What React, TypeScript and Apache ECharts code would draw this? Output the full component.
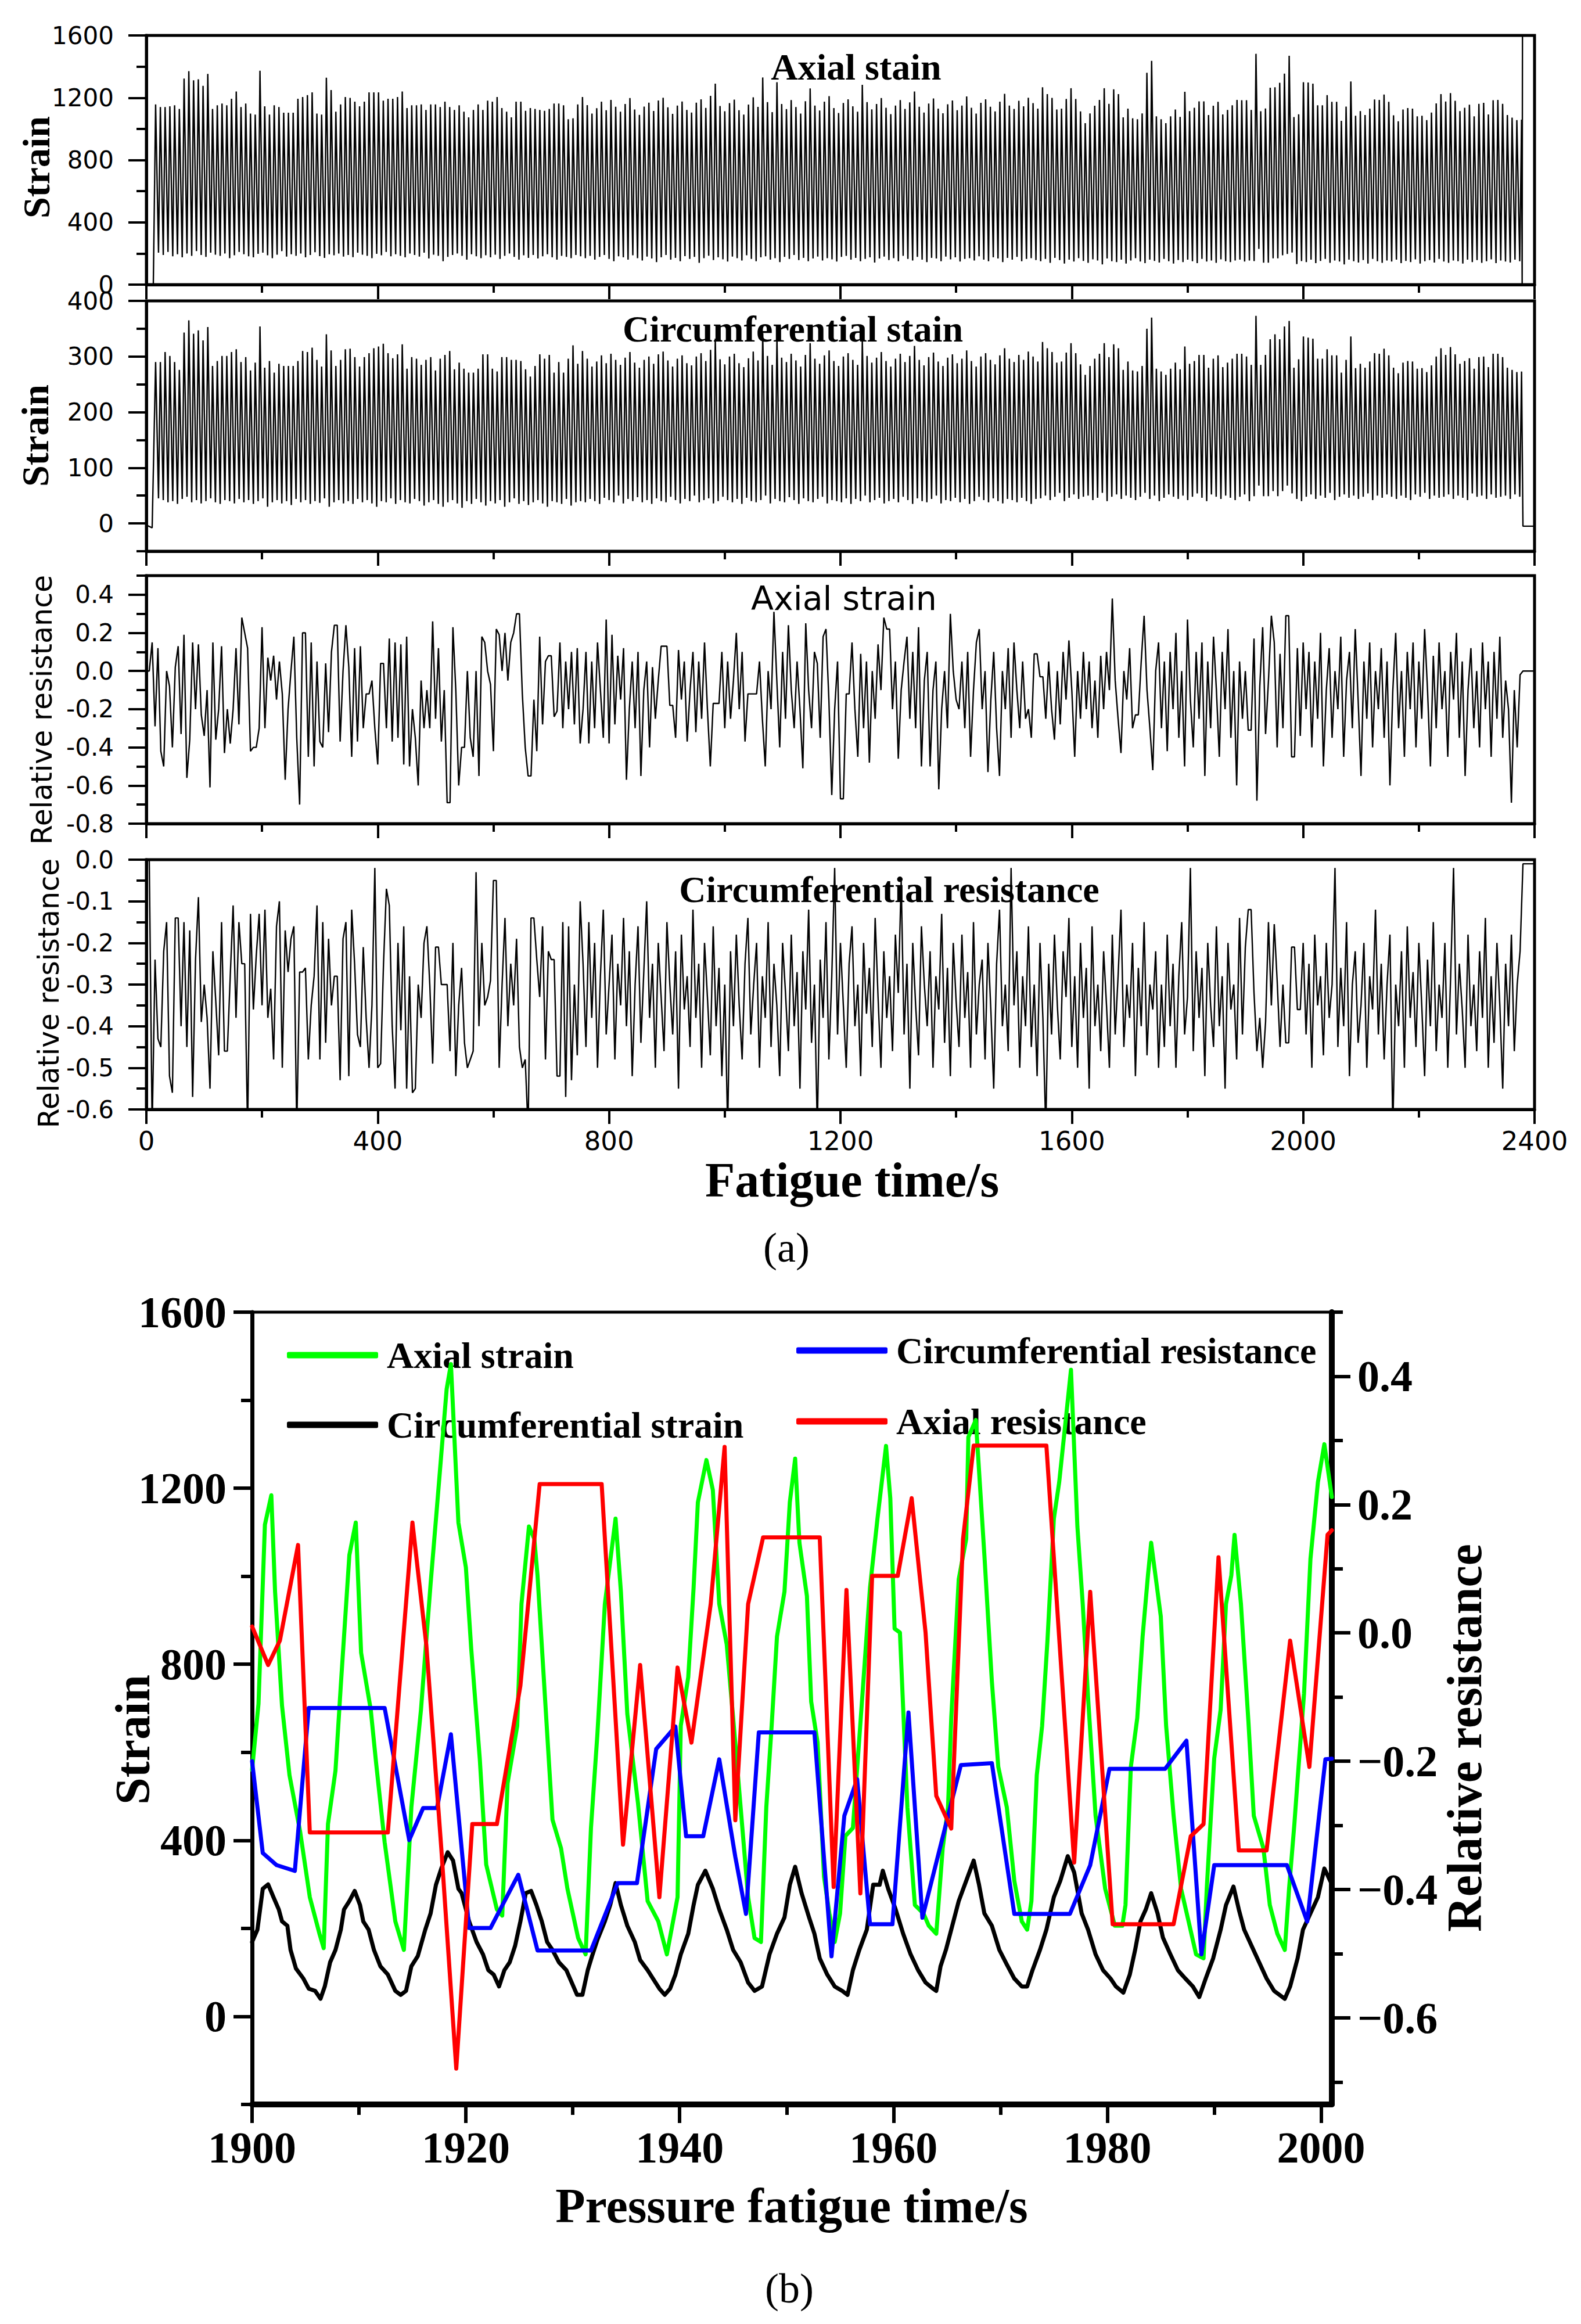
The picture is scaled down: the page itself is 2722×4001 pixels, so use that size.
import React, { useEffect, useRef } from 'react';
import * as echarts from 'echarts';

// ================= DATA =================
// Panel (a): cyclic strain signals, one peak / trough per loading cycle (cycle k at t = 16 + 8.2 k s)
const CYCLE_T0 = 16;
const CYCLE_PERIOD = 8.2;
const CYCLE_FALL = 5.0;

const axialPeaks = [
  1157,1140,1140,1145,1151,1128,1323,1371,1312,1318,
  1276,1353,1128,1151,1163,1151,1193,1240,1140,1163,
  1098,1092,1373,1145,1092,1151,1140,1104,1104,1104,
  1193,1205,1217,1234,1098,1092,1329,1249,1110,1157,
  1205,1199,1175,1145,1175,1234,1234,1234,1181,1193,
  1193,1205,1240,1134,1151,1151,1157,1122,1157,1157,
  1140,1175,1140,1122,1151,1110,1074,1122,1157,1122,
  1181,1175,1205,1134,1110,1074,1175,1175,1116,1134,
  1128,1122,1116,1128,1163,1163,1151,1062,1068,1157,
  1205,1152,1098,1133,1175,1120,1186,1142,1110,1160,
  1198,1124,1090,1143,1168,1115,1182,1200,1138,1096,
  1150,1176,1122,1105,1168,1190,1135,1212,1290,1147,
  1113,1165,1188,1120,1092,1156,1203,1141,1330,1172,
  1108,1300,1160,1127,1185,1140,1098,1178,1260,1150,
  1118,1175,1210,1134,1102,1166,1190,1145,1110,1283,
  1172,1125,1160,1198,1136,1095,1150,1185,1128,1170,
  1240,1142,1105,1163,1195,1130,1100,1158,1182,1120,
  1150,1208,1136,1098,1167,1190,1142,1112,1175,1225,
  1150,1128,1180,1145,1200,1165,
  1130,1267,1223,1199,1124,1130,1192,1261,1192,1112,
  1037,1099,1149,1186,1261,1161,1254,1223,1074,1130,
  1068,1062,1099,1360,1437,1081,1062,1037,1081,1124,
  1077,1238,1114,1136,1177,1177,1089,1149,1174,1093,
  1122,1151,1186,1184,1184,1122,
  1482,1113,1131,1264,1267,1296,1355,1469,1076,1094,1300,
  1298,1290,1151,1151,1217,1174,1174,1052,1143,1304,
  1084,1114,1089,1130,1189,1186,1220,1174,1087,1049,
  1124,1134,1130,1081,1084,1056,1105,1164,1223,1176,
  1230,1180,1114,1136,1155,1081,1161,1167,1093,1184,
  1186,1161,1089,1072,1056,1059
];
const axialTroughs = [
  205,190,210,182,195,175,200,185,215,190,178,205,192,185,200,170,188,210,195,182,
  175,198,205,188,170,192,215,180,195,185,200,175,190,208,183,172,195,188,200,180,
  190,176,205,192,185,170,198,188,210,182,195,185,175,200,190,180,205,168,192,185,
  150,178,190,200,185,160,195,182,170,188,175,192,165,185,200,178,160,188,172,190,
  168,182,195,175,160,185,178,170,190,182,
  170,185,160,178,190,165,150,182,175,160,
  188,170,155,180,168,145,175,190,160,172,
  150,183,165,178,140,170,186,158,175,162,
  148,180,170,155,188,165,150,175,182,160,
  170,145,178,165,190,158,172,150,168,180,
  155,170,162,148,178,185,160,172,150,165,
  175,142,168,180,158,170,150,185,165,155,
  178,160,145,172,168,150,180,162,175,148,
  165,170,155,182,160,150,175,168,145,172,
  160,178,150,165,170,158,
  150,165,140,172,158,135,160,148,170,152,
  140,162,155,130,168,150,145,160,135,155,
  170,148,138,160,152,142,165,150,135,158,
  145,160,150,138,165,148,155,140,162,150,
  145,155,160,148,
  155,151,229,141,141,169,169,188,197,206,132,151,
  145,160,138,152,165,140,155,148,130,160,
  150,142,158,135,165,150,140,155,148,160,
  138,152,145,162,135,150,158,142,165,148,
  140,155,150,135,160,145,158,140,150,162,
  138,155,148,142,160,150,135
];
const circPeaks = [
  290,290,308,301,290,276,343,365,341,347,
  329,353,283,292,301,301,308,313,290,299,
  275,289,354,280,292,271,287,283,283,283,
  292,310,308,316,294,282,340,311,283,294,
  313,314,299,282,299,306,315,318,323,306,
  297,304,322,278,299,296,285,294,299,275,
  296,303,310,277,289,278,271,271,278,304,
  304,278,273,299,299,294,294,292,277,264,
  283,304,296,303,271,290,271,296,320,287,
  310,296,282,291,302,288,305,294,285,298,
  308,289,280,294,300,287,304,309,293,282,
  296,302,288,284,300,306,292,312,332,295,
  286,300,305,288,281,297,309,293,342,301,
  285,334,298,290,305,293,282,303,324,296,
  287,302,311,292,283,300,306,294,285,330,
  301,289,298,308,292,282,296,305,290,301,
  319,294,284,299,307,291,283,298,304,288,
  296,311,292,282,300,306,294,286,302,315,
  296,290,303,294,309,300,
  291,326,315,308,289,291,307,324,306,286,
  267,283,296,305,324,299,322,315,276,291,
  275,273,283,350,370,278,273,267,278,289,
  277,318,287,292,303,303,280,296,302,281,
  289,296,305,305,300,285,
  373,285,303,331,340,331,354,364,280,295,336,
  334,332,296,296,313,302,302,271,294,336,
  279,287,280,291,306,305,314,302,280,270,
  289,292,291,278,279,272,284,300,315,303,
  317,304,287,292,297,278,299,300,281,305,
  305,299,280,276,272,273
];
const circTroughs = [
  45,42,38,40,35,44,48,38,42,36,
  40,45,38,35,42,40,36,44,38,42,
  35,40,45,30,38,42,36,40,33,44,
  38,42,35,40,37,45,30,38,42,36,
  40,35,44,38,42,36,30,40,38,45,
  35,42,38,36,44,40,32,38,42,35,
  30,38,42,36,28,40,35,44,38,32,
  40,36,42,30,38,45,35,40,33,38,
  42,36,30,40,38,35,44,32,38,40,
  38,44,40,35,46,42,38,50,36,44,
  40,47,38,42,35,45,40,38,48,42,
  36,44,40,50,38,42,45,36,40,48,
  42,38,44,35,46,40,38,42,50,36,
  44,40,38,47,42,35,45,40,38,44,
  48,36,42,40,38,45,35,44,40,50,
  38,42,46,36,40,44,38,48,42,35,
  45,40,38,44,50,36,42,40,46,38,
  44,35,40,48,42,38,45,40,36,44,
  42,38,46,40,35,44,
  45,50,42,48,55,40,46,52,44,48,
  50,42,46,55,40,48,52,44,50,46,
  42,48,55,44,50,40,46,52,48,44,
  50,42,48,54,46,40,52,48,44,50,
  46,42,48,52,
  40,49,68,49,49,58,49,58,68,54,44,40,
  48,52,44,50,46,55,42,48,52,46,
  50,44,48,54,42,50,46,52,48,44,
  50,46,42,52,48,55,44,50,46,48,
  52,44,50,46,42,54,48,50,44,52,
  46,48,50,44,52,48,46
];

// Relative resistance, sampled every 5 s from 0 to 2400 s
const RES_STEP = 5;
const axialRes = [
  0.0,0.0,0.15,-0.29,0.12,-0.42,-0.5,0.0,-0.08,-0.4,
  0.02,0.13,-0.33,0.19,-0.56,-0.36,0.15,-0.2,0.14,-0.23,
  -0.34,-0.1,-0.61,0.15,-0.36,-0.2,0.13,-0.43,-0.2,-0.38,
  -0.2,0.12,-0.28,0.28,0.2,0.12,-0.42,-0.4,-0.4,-0.3,
  0.23,-0.3,0.07,-0.05,0.08,-0.15,0.05,-0.12,-0.57,-0.2,
  0.0,0.18,-0.35,-0.7,0.2,0.2,-0.45,0.15,-0.5,0.05,
  -0.37,-0.4,0.04,-0.32,0.1,0.24,0.24,-0.37,0.0,0.24,
  0.02,-0.45,0.12,-0.37,0.13,-0.3,-0.12,-0.12,-0.05,-0.3,
  -0.49,0.04,0.04,-0.3,0.17,-0.37,0.15,-0.35,0.14,-0.49,
  0.18,-0.5,-0.2,-0.35,-0.6,-0.05,-0.3,-0.1,-0.3,0.26,
  -0.25,0.12,-0.37,-0.1,-0.69,-0.69,0.23,-0.1,-0.6,-0.4,
  -0.4,0.0,-0.35,-0.45,0.0,-0.55,0.18,0.15,0.0,-0.07,
  -0.42,0.22,0.19,0.0,0.2,-0.05,0.15,0.2,0.3,0.3,
  -0.12,-0.4,-0.55,-0.55,-0.15,-0.42,0.18,-0.28,0.05,0.08,
  0.08,-0.24,-0.21,0.15,-0.3,0.05,-0.2,0.1,-0.28,0.12,
  -0.38,
  -0.2,0.1,-0.38,0.05,-0.3,0.15,-0.1,-0.35,0.27,-0.38,
  0.19,-0.28,0.08,-0.15,0.12,-0.57,-0.2,0.05,-0.3,0.1,
  -0.55,-0.1,0.05,-0.4,0.02,-0.25,-0.05,0.13,0.13,0.13,
  -0.18,-0.18,-0.35,0.11,-0.15,0.05,-0.37,-0.1,0.1,-0.32,
  0.05,-0.25,0.15,-0.2,-0.5,-0.17,-0.17,-0.17,0.1,-0.3,
  0.05,-0.25,-0.05,0.2,-0.2,0.1,-0.37,-0.12,-0.12,-0.12,
  -0.12,0.05,-0.25,-0.5,0.0,-0.2,0.31,-0.05,-0.4,0.1,
  -0.25,0.24,-0.1,-0.3,0.05,-0.2,-0.51,0.25,-0.1,-0.3,
  0.1,0.04,-0.35,0.18,0.22,-0.15,-0.65,-0.2,0.05,-0.67,
  -0.67,-0.12,-0.12,0.15,-0.2,-0.45,0.09,-0.3,0.05,-0.48,
  0.0,-0.25,0.14,-0.1,0.28,0.22,0.22,-0.2,0.05,-0.46,
  -0.1,0.05,0.18,-0.25,0.1,-0.3,0.23,-0.5,-0.05,0.1,
  -0.5,-0.1,0.05,-0.62,-0.2,0.0,-0.3,0.3,0.0,-0.15,
  -0.2,0.05,-0.3,0.1,-0.45,-0.1,0.15,0.22,-0.2,0.0,
  -0.53,-0.15,0.1,-0.3,-0.55,0.0,-0.2,0.12,-0.35,0.15,
  -0.1,-0.3,0.05,-0.25,-0.2,-0.35,0.09,0.09,-0.03,-0.03,
  -0.25,0.05,-0.2,-0.36,0.0,-0.28,0.1,-0.15,0.16,-0.1,
  -0.45,0.0,-0.25,0.1,-0.2,0.05,-0.3,-0.05,-0.35,0.08,
  -0.2,0.1,-0.1,0.38,-0.05,-0.25,-0.43,0.0,-0.15,0.12,
  -0.3,-0.23,-0.23,0.05,0.29,-0.1,-0.3,-0.52,0.0,0.15,
  -0.3,0.05,-0.42,0.1,-0.2,0.2,-0.35,0.0,-0.5,0.27,
  -0.15,-0.4,0.1,-0.25,0.15,-0.55,0.05,-0.3,0.18,-0.1,
  -0.45,0.1,-0.2,0.22,-0.35,0.0,-0.6,0.05,-0.25,0.0,
  -0.31,-0.31,0.17,-0.68,-0.08,0.23,-0.33,-0.05,0.29,0.15,
  -0.4,0.09,-0.3,0.29,0.29,-0.45,-0.45,0.12,-0.34,0.15,
  -0.2,0.1,-0.4,0.05,-0.25,0.2,-0.5,-0.1,0.12,-0.35,
  0.0,-0.2,0.18,-0.45,-0.05,0.1,-0.3,0.22,-0.15,-0.55,
  0.05,-0.25,0.15,-0.4,0.0,-0.2,0.12,-0.35,0.05,-0.6,
  -0.1,0.2,-0.3,0.0,-0.45,0.1,-0.2,0.15,-0.4,0.05,
  -0.25,0.22,-0.1,-0.5,0.08,-0.3,0.15,-0.2,0.0,-0.45,
  0.1,-0.15,0.2,-0.35,0.05,-0.55,-0.1,0.12,-0.3,0.0,
  -0.4,0.15,-0.2,0.05,-0.45,0.1,-0.25,0.18,-0.35,-0.05,
  -0.2,-0.69,-0.1,-0.4,-0.02,0.0,0.0,0.0,0.0,0.0
];
const circRes = [
  0.0,0.0,-0.65,-0.24,-0.43,-0.45,-0.22,-0.15,-0.52,-0.56,
  -0.14,-0.14,-0.4,-0.15,-0.45,-0.17,-0.57,-0.24,-0.09,-0.39,
  -0.3,-0.38,-0.55,-0.22,-0.34,-0.47,-0.15,-0.46,-0.46,-0.28,
  -0.11,-0.38,-0.15,-0.25,-0.25,-0.65,-0.13,-0.36,-0.23,-0.13,
  -0.35,-0.12,-0.38,-0.31,-0.48,-0.16,-0.1,-0.5,-0.17,-0.27,
  -0.19,-0.16,-0.65,-0.27,-0.27,-0.26,-0.48,-0.35,-0.28,-0.11,
  -0.48,-0.15,-0.44,-0.19,-0.35,-0.28,-0.28,-0.53,-0.19,-0.15,
  -0.52,-0.12,-0.25,-0.42,-0.45,-0.21,-0.38,-0.5,-0.35,-0.02,
  -0.5,-0.49,-0.25,-0.07,-0.11,-0.4,-0.55,-0.2,-0.41,-0.16,
  -0.55,-0.28,-0.56,
  -0.55,-0.3,-0.38,-0.2,-0.16,-0.3,-0.49,-0.21,-0.21,-0.3,
  -0.3,-0.3,-0.46,-0.2,-0.52,-0.35,-0.26,-0.44,-0.5,-0.48,
  -0.46,-0.03,-0.4,-0.2,-0.35,-0.33,-0.29,-0.05,-0.05,-0.5,
  -0.3,-0.14,-0.4,-0.25,-0.35,-0.19,-0.45,-0.5,-0.48,-0.65,
  -0.14,-0.14,-0.24,-0.33,-0.16,-0.48,-0.22,-0.24,-0.24,-0.52,
  -0.52,-0.15,-0.57,-0.16,-0.53,-0.3,-0.47,-0.1,
  -0.25,-0.45,-0.15,-0.38,-0.2,-0.5,-0.28,-0.12,-0.42,-0.3,
  -0.18,-0.48,-0.25,-0.35,-0.14,-0.4,-0.22,-0.52,-0.3,-0.16,
  -0.44,-0.27,-0.1,-0.38,-0.25,-0.5,-0.2,-0.33,-0.46,-0.15,
  -0.3,-0.42,-0.22,-0.55,-0.18,-0.36,-0.28,-0.45,-0.12,-0.38,
  -0.25,-0.5,-0.2,-0.33,-0.47,-0.16,-0.4,-0.26,-0.52,-0.3,
  -0.65,-0.22,-0.4,-0.18,-0.35,-0.48,-0.25,-0.14,-0.42,-0.3,
  -0.2,-0.5,-0.28,-0.38,-0.15,-0.45,-0.25,-0.35,-0.52,-0.2,
  -0.32,-0.46,-0.18,-0.4,-0.27,-0.55,-0.22,-0.36,-0.12,-0.44,
  -0.3,-0.65,-0.24,-0.38,-0.15,-0.48,-0.28,-0.02,-0.42,-0.2,
  -0.35,-0.5,-0.25,-0.16,-0.4,-0.3,-0.52,-0.2,-0.37,-0.26,
  -0.45,-0.14,-0.33,-0.5,-0.22,-0.38,-0.28,-0.46,-0.18,-0.32,
  -0.05,-0.42,-0.25,-0.55,-0.2,-0.35,-0.47,-0.16,-0.3,-0.4,
  -0.22,-0.5,-0.28,-0.36,-0.13,-0.44,-0.26,-0.52,-0.2,-0.34,
  -0.45,-0.18,-0.38,-0.27,-0.5,-0.15,-0.42,-0.3,-0.24,-0.48,
  -0.2,-0.36,-0.55,-0.25,-0.12,-0.4,-0.3,-0.46,-0.02,-0.35,
  -0.22,-0.5,-0.28,-0.4,-0.16,-0.45,-0.3,-0.52,-0.2,-0.38,
  -0.65,-0.25,-0.42,-0.18,-0.35,-0.48,-0.22,-0.33,-0.14,-0.45,
  -0.28,-0.5,-0.2,-0.38,-0.26,-0.55,-0.16,-0.4,-0.3,-0.46,
  -0.22,-0.35,-0.5,-0.18,-0.42,-0.28,-0.12,-0.45,-0.3,-0.38,
  -0.2,-0.52,-0.26,-0.4,-0.15,-0.47,-0.3,-0.36,-0.22,-0.5,
  -0.3,-0.45,-0.18,-0.4,-0.25,-0.5,-0.28,-0.15,-0.42,-0.33,
  -0.02,-0.46,-0.22,-0.38,-0.26,-0.52,-0.2,-0.35,-0.45,-0.16,
  -0.4,-0.28,-0.55,-0.2,-0.36,-0.3,-0.48,-0.14,-0.42,-0.21,
  -0.12,-0.12,-0.32,-0.46,-0.38,-0.5,-0.39,-0.15,-0.35,-0.155,
  -0.29,-0.45,-0.3,-0.44,-0.44,-0.21,-0.21,-0.36,-0.36,-0.2,
  -0.42,-0.25,-0.5,-0.18,-0.35,-0.28,-0.47,-0.2,-0.38,-0.3,
  -0.02,-0.45,-0.26,-0.4,-0.15,-0.52,-0.3,-0.22,-0.44,-0.35,
  -0.2,-0.5,-0.28,-0.36,-0.12,-0.42,-0.25,-0.48,-0.3,-0.18,
  -0.65,-0.3,-0.4,-0.22,-0.5,-0.16,-0.38,-0.27,-0.45,-0.2,
  -0.35,-0.52,-0.24,-0.4,-0.15,-0.46,-0.3,-0.38,-0.2,-0.5,
  -0.28,-0.02,-0.42,-0.25,-0.36,-0.5,-0.18,-0.4,-0.3,-0.46,
  -0.22,-0.38,-0.14,-0.5,-0.28,-0.44,-0.2,-0.35,-0.55,-0.25,
  -0.4,-0.18,-0.46,-0.3,-0.22,-0.01,-0.01,-0.01,-0.01,-0.01
];

// Panel (b): 1900-2000 s detail (time, value)
const pbAxialT = [1900,1900.6,1901.2,1901.8,1902.15,1902.8,1903.5,1904.5,1905.4,1906.3,1906.7,1907.1,1907.8,1908.3,1909.1,1909.7,1910.2,1911.1,1911.6,1912.4,1913.4,1914.2,1914.9,1915.8,1916.7,1917.3,1918.2,1918.6,1919.3,1920,1920.5,1921.3,1921.9,1922.9,1923.4,1923.9,1924.8,1925.2,1925.9,1926.4,1926.7,1927.4,1928.1,1928.9,1929.5,1930.5,1931.2,1931.7,1932.3,1933,1934,1934.5,1935.1,1936.1,1937,1938,1938.8,1939.8,1940.1,1940.8,1941.3,1941.7,1942.5,1943.1,1943.7,1944.4,1945,1945.7,1946.4,1947,1947.6,1948.1,1948.6,1949.1,1949.8,1950.3,1950.8,1951.2,1951.9,1952.3,1952.9,1953.5,1954,1954.5,1955,1955.5,1956.2,1957.1,1957.8,1958.5,1959.3,1959.7,1960.1,1960.6,1961.3,1962,1962.8,1963.3,1964,1964.6,1965.1,1965.4,1966.1,1966.8,1967,1967.7,1968.5,1969.2,1969.8,1970.6,1971.3,1972,1972.5,1972.9,1973.4,1973.9,1974.4,1975,1975.5,1976.6,1977.2,1977.7,1978.2,1978.9,1979.8,1980.7,1981.4,1981.7,1982.2,1982.8,1983.3,1983.8,1984.1,1984.5,1985,1985.5,1986.2,1986.9,1987.6,1988.3,1989,1989.3,1990,1990.6,1991.1,1991.6,1991.9,1992.5,1993.2,1993.7,1994.6,1995.2,1995.9,1996.6,1997,1997.5,1997.8,1998.4,1999,1999.7,2000.3,2001];
const pbAxialV = [560,710,1117,1184,965,706,548,419,271,188,155,437,558,752,1048,1122,826,697,576,396,216,151,475,697,983,1159,1425,1482,1122,1020,835,585,345,243,229,530,660,937,1113,1085,1002,724,447,382,290,178,141,428,641,937,1131,965,687,484,262,216,141,271,660,771,974,1168,1264,1196,937,845,678,475,271,178,169,475,660,863,965,1168,1267,1076,955,715,622,317,234,169,234,410,428,733,974,1131,1296,1177,881,872,475,253,234,206,188,382,475,678,993,1085,1316,1355,1048,761,567,475,308,216,197,262,548,660,854,1131,1214,1469,1113,937,724,456,290,206,206,253,567,678,863,1002,1076,1002,909,660,456,290,216,141,132,290,586,697,937,1002,1094,937,669,456,382,253,188,151,290,438,539,733,1039,1214,1300,1180];

const pbCircT = [1900,1900.5,1901,1901.5,1902,1902.5,1902.8,1903.3,1903.6,1904.1,1904.8,1905.3,1905.9,1906.4,1906.8,1907.3,1907.8,1908.3,1908.6,1909.1,1909.6,1910.1,1910.4,1910.9,1911.4,1912,1912.7,1913.4,1913.9,1914.4,1914.9,1915.5,1916.2,1916.7,1917.2,1917.7,1918.3,1918.8,1919.3,1919.6,1920.3,1921,1921.6,1922.1,1922.6,1923.1,1923.6,1924.1,1924.6,1925.1,1925.6,1926.1,1926.6,1927.1,1927.6,1928.1,1928.7,1929.4,1929.9,1930.4,1930.9,1931.4,1931.8,1932.3,1933,1933.5,1934,1934.5,1935.1,1935.8,1936.3,1937,1937.5,1938.1,1938.6,1939.1,1939.6,1940.1,1940.8,1941.3,1941.7,1942.4,1943.1,1943.7,1944.4,1945,1945.7,1946.4,1947,1947.7,1948.4,1949.1,1949.8,1950.3,1950.8,1951.4,1952.1,1952.6,1953.1,1953.8,1954.5,1955.2,1955.7,1956.2,1956.8,1957.5,1958.1,1958.7,1959,1959.5,1960.2,1960.9,1961.6,1962.3,1963,1963.7,1964,1964.4,1964.9,1965.4,1966.1,1966.8,1967.5,1968,1968.5,1969.2,1969.9,1970.6,1971.3,1972,1972.5,1973,1973.7,1974.3,1975,1975.6,1976.3,1976.9,1977.6,1978.2,1978.9,1979.6,1980.3,1980.8,1981.5,1982.1,1982.6,1983.1,1983.6,1984.1,1984.7,1985.2,1985.9,1986.6,1987.3,1988,1988.6,1989.2,1989.9,1990.6,1991.1,1991.8,1992.3,1992.8,1993.5,1994.2,1994.9,1995.6,1996.6,1997.1,1997.8,1998.3,1999,1999.7,2000.3,2001];
const pbCircV = [169,197,290,300,271,243,216,206,151,109,86,63,58,40,68,123,151,197,243,262,285,253,216,197,151,114,95,58,49,58,114,137,197,234,299,336,373,354,290,280,216,169,141,105,95,68,105,123,160,216,280,285,253,216,169,151,123,105,77,49,49,105,137,174,216,253,303,253,206,169,128,105,86,63,49,63,95,141,188,253,299,331,290,243,197,151,123,77,58,68,141,188,225,299,340,280,225,188,132,95,68,58,49,105,151,197,299,299,331,290,243,188,141,105,77,63,58,114,151,197,262,308,354,299,234,206,151,118,86,68,68,105,151,197,271,308,364,327,234,197,141,105,86,68,54,95,151,216,243,280,234,179,141,105,86,68,44,86,132,197,253,295,243,197,160,123,86,58,40,68,132,197,234,271,336,300];

const pbCircResT = [1900,1901,1902.3,1904,1905.3,1912.4,1914.7,1916,1917.3,1918.6,1920.3,1922.3,1924.9,1926.7,1931.7,1934.2,1936,1937.8,1939.6,1940.6,1942.2,1943.7,1945.2,1946.2,1947.4,1952.6,1954.2,1955.4,1956.6,1957.8,1959.9,1961.4,1962.7,1966.3,1969.2,1971.3,1976.5,1978.4,1980.2,1985.4,1987.4,1988.8,1990,1996.8,1998.7,2000.4,2001];
const pbCircResV = [-0.2,-0.343,-0.362,-0.371,-0.117,-0.117,-0.323,-0.273,-0.273,-0.158,-0.46,-0.46,-0.377,-0.495,-0.495,-0.39,-0.39,-0.181,-0.146,-0.317,-0.317,-0.197,-0.349,-0.438,-0.155,-0.155,-0.504,-0.285,-0.228,-0.454,-0.454,-0.124,-0.444,-0.206,-0.203,-0.438,-0.438,-0.362,-0.212,-0.212,-0.168,-0.501,-0.362,-0.362,-0.45,-0.197,-0.196];

const pbAxialResT = [1900,1901.5,1902.6,1904.3,1905.4,1912.7,1915,1916.3,1917.7,1919.1,1920.6,1922.9,1925.1,1926.9,1932.7,1934.7,1936.3,1938.1,1939.8,1941.1,1942.9,1944.2,1945.2,1946.4,1947.8,1953.1,1954.4,1955.6,1956.9,1958,1960.4,1961.7,1963,1964,1965.4,1966.5,1967.5,1974.3,1976.9,1978.4,1980.5,1986.2,1987.8,1989,1990.4,1992.3,1994.9,1997.1,1998.9,2000.6,2001];
const pbAxialResV = [0.01,-0.05,-0.012,0.137,-0.311,-0.311,0.172,-0.019,-0.336,-0.679,-0.298,-0.298,-0.082,0.232,0.232,-0.33,-0.05,-0.412,-0.054,-0.171,0.045,0.29,-0.292,0.045,0.149,0.149,-0.396,0.067,-0.406,0.089,0.089,0.21,0.0,-0.254,-0.305,0.146,0.292,0.292,-0.358,0.064,-0.454,-0.454,-0.317,-0.298,0.118,-0.339,-0.339,-0.012,-0.209,0.153,0.16];

// Tick values
const aXTicks = [0, 400, 800, 1200, 1600, 2000, 2400];
const aXMinor = [200, 600, 1000, 1400, 1800, 2200];
const s1YTicks = [0, 400, 800, 1200, 1600];
const s1YMinor = [200, 600, 1000, 1400];
const s2YTicks = [0, 100, 200, 300, 400];
const s2YMinor = [-50, 50, 150, 250, 350];
const s3YTicks = [-0.8, -0.6, -0.4, -0.2, 0, 0.2, 0.4];
const s3YMinor = [-0.7, -0.5, -0.3, -0.1, 0.1, 0.3, 0.5];
const s4YTicks = [-0.6, -0.5, -0.4, -0.3, -0.2, -0.1, 0];
const s4YMinor = [-0.55, -0.45, -0.35, -0.25, -0.15, -0.05];
const bXTicks = [1900, 1920, 1940, 1960, 1980, 2000];
const bXMinor = [1910, 1930, 1950, 1970, 1990];
const bYTicks = [0, 400, 800, 1200, 1600];
const bYMinor = [-200, 200, 600, 1000, 1400];
const bRTicks = [-0.6, -0.4, -0.2, 0, 0.2, 0.4];
const bRMinor = [-0.7, -0.5, -0.3, -0.1, 0.1, 0.3, 0.5];

// ================= BUILD =================
const SERIF = "'Liberation Serif', 'Times New Roman', serif";
const SANS = "'DejaVu Sans', 'Liberation Sans', sans-serif";
const K = '#000';

function cycleData(peaks: number[], troughs: number[], start: number[][], end: number[][]) {
  const pts: number[][] = start.slice();
  peaks.forEach((p, k) => {
    const t = CYCLE_T0 + CYCLE_PERIOD * k;
    pts.push([t, p]);
    if (k < peaks.length - 1) pts.push([t + CYCLE_FALL, troughs[k]]);
  });
  end.forEach((e) => pts.push(e));
  return pts;
}
function stepData(vals: number[]) {
  return vals.map((v, i) => [i * RES_STEP, v]);
}
function pairs(t: number[], v: number[]) {
  return t.map((x, i) => [x, v[i]]);
}

function xPair(gridIndex: number, showLabel: boolean) {
  return [
    {
      type: 'value', gridIndex, min: 0, max: 2400, position: 'bottom',
      axisLine: { show: true, onZero: false, lineStyle: { color: K, width: 5 } },
      axisTick: { show: true, customValues: aXTicks, length: 25, lineStyle: { color: K, width: 4 } },
      axisLabel: { show: showLabel, customValues: aXTicks, margin: 32, color: K, fontFamily: SANS, fontSize: 45, formatter: (v: number) => String(v) },
      splitLine: { show: false },
    },
    {
      type: 'value', gridIndex, min: 0, max: 2400, position: 'bottom',
      axisLine: { show: false, onZero: false },
      axisTick: { show: true, customValues: aXMinor, length: 14, lineStyle: { color: K, width: 4 } },
      axisLabel: { show: false }, splitLine: { show: false },
    },
  ];
}
function yPair(gridIndex: number, min: number, max: number, ticks: number[], minor: number[], fmt: (v: number) => string) {
  return [
    {
      type: 'value', gridIndex, min, max, position: 'left',
      axisLine: { show: true, onZero: false, lineStyle: { color: K, width: 5 } },
      axisTick: { show: true, customValues: ticks, length: 31, lineStyle: { color: K, width: 4 } },
      axisLabel: { show: true, customValues: ticks, margin: 56, color: K, fontFamily: SANS, fontSize: 42, formatter: fmt },
      splitLine: { show: false },
    },
    {
      type: 'value', gridIndex, min, max, position: 'left',
      axisLine: { show: false, onZero: false },
      axisTick: { show: true, customValues: minor, length: 17, lineStyle: { color: K, width: 4 } },
      axisLabel: { show: false }, splitLine: { show: false },
    },
  ];
}

function txt(text: string, x: number, y: number, font: string, rotation = 0) {
  return {
    type: 'text', x, y, rotation, silent: true, z: 50,
    style: { text, font, fill: K, align: 'center', verticalAlign: 'middle', textAlign: 'center', textVerticalAlign: 'middle' },
  };
}

function legendItem(name: string, left: number, top: number) {
  return {
    data: [name], left, top, padding: 0, orient: 'horizontal', selectedMode: false,
    icon: 'roundRect', itemWidth: 157, itemHeight: 11,
    textStyle: { color: K, fontFamily: SERIF, fontWeight: 'bold', fontSize: 64, padding: [0, 0, 0, 10] },
  };
}

function buildOption() {
  const int = (v: number) => String(v);
  const dec = (v: number) => v.toFixed(1);
  const decMinus = (v: number) => (v < -1e-9 ? '\u2212' : '') + Math.abs(v).toFixed(1);

  const grids = [
    { left: 252, top: 61, width: 2390, height: 429 },
    { left: 252, top: 518, width: 2390, height: 431 },
    { left: 252, top: 991, width: 2390, height: 427 },
    { left: 252, top: 1480, width: 2390, height: 430 },
    { left: 434, top: 2259, width: 1859, height: 1364 },
  ].map((g) => ({ ...g, show: true, borderColor: K, borderWidth: 5, backgroundColor: 'transparent' }));

  const xAxis: any[] = [
    ...xPair(0, false), ...xPair(1, false), ...xPair(2, false), ...xPair(3, true),
    {
      type: 'value', gridIndex: 4, min: 1900, max: 2001, position: 'bottom',
      axisLine: { show: true, onZero: false, lineStyle: { color: K, width: 10 } },
      axisTick: { show: true, customValues: bXTicks, length: 32, lineStyle: { color: K, width: 6 } },
      axisLabel: { show: true, customValues: bXTicks, margin: 36, color: K, fontFamily: SERIF, fontWeight: 'bold', fontSize: 76, formatter: int },
      splitLine: { show: false },
    },
    {
      type: 'value', gridIndex: 4, min: 1900, max: 2001, position: 'bottom',
      axisLine: { show: false, onZero: false },
      axisTick: { show: true, customValues: bXMinor, length: 18, lineStyle: { color: K, width: 6 } },
      axisLabel: { show: false }, splitLine: { show: false },
    },
  ];

  const yAxis: any[] = [
    ...yPair(0, 0, 1600, s1YTicks, s1YMinor, int),
    ...yPair(1, -50, 400, s2YTicks, s2YMinor, int),
    ...yPair(2, -0.8, 0.5, s3YTicks, s3YMinor, dec),
    ...yPair(3, -0.6, 0, s4YTicks, s4YMinor, dec),
    {
      type: 'value', gridIndex: 4, min: -200, max: 1600, position: 'left',
      axisLine: { show: true, onZero: false, lineStyle: { color: K, width: 7 } },
      axisTick: { show: true, customValues: bYTicks, length: 32, lineStyle: { color: K, width: 6 } },
      axisLabel: { show: true, customValues: bYTicks, margin: 44, color: K, fontFamily: SERIF, fontWeight: 'bold', fontSize: 76, formatter: int },
      splitLine: { show: false },
    },
    {
      type: 'value', gridIndex: 4, min: -200, max: 1600, position: 'left',
      axisLine: { show: false, onZero: false },
      axisTick: { show: true, customValues: bYMinor, length: 19, lineStyle: { color: K, width: 6 } },
      axisLabel: { show: false }, splitLine: { show: false },
    },
    {
      type: 'value', gridIndex: 4, min: -0.735, max: 0.5, position: 'right',
      axisLine: { show: true, onZero: false, lineStyle: { color: K, width: 10 } },
      axisTick: { show: true, customValues: bRTicks, length: 32, lineStyle: { color: K, width: 6 } },
      axisLabel: { show: true, customValues: bRTicks, margin: 44, color: K, fontFamily: SERIF, fontWeight: 'bold', fontSize: 76, formatter: decMinus },
      splitLine: { show: false },
    },
    {
      type: 'value', gridIndex: 4, min: -0.735, max: 0.5, position: 'right',
      axisLine: { show: false, onZero: false },
      axisTick: { show: true, customValues: bRMinor, length: 19, lineStyle: { color: K, width: 6 } },
      axisLabel: { show: false }, splitLine: { show: false },
    },
  ];

  const thin = (name: string, xi: number, yi: number, data: number[][]) => ({
    type: 'line', name, xAxisIndex: xi, yAxisIndex: yi, data,
    symbol: 'none', showSymbol: false, silent: true, clip: true,
    lineStyle: { color: K, width: 2.4 }, itemStyle: { color: K }, emphasis: { disabled: true }, z: 3,
  });
  const thick = (name: string, yi: number, color: string, data: number[][], z: number) => ({
    type: 'line', name, xAxisIndex: 8, yAxisIndex: yi, data,
    symbol: 'none', showSymbol: false, silent: true, clip: true,
    lineStyle: { color, width: 7, join: 'round', cap: 'round' }, itemStyle: { color }, emphasis: { disabled: true }, z,
  });

  const sub1 = cycleData(axialPeaks, axialTroughs, [[0, 0], [12, 0]], [[2378.6, 0], [2379.2, 1800]]);
  const sub2 = cycleData(circPeaks, circTroughs, [[0, -3], [10, -8]], [[2380, -5], [2400, -5]]);

  const series: any[] = [
    thin('a-axial-strain', 0, 0, sub1),
    thin('a-circ-strain', 2, 2, sub2),
    thin('a-axial-res', 4, 4, stepData(axialRes)),
    thin('a-circ-res', 6, 6, stepData(circRes)),
    thick('Axial strain', 8, '#00ff00', pairs(pbAxialT, pbAxialV), 4),
    thick('Circumferential strain', 8, '#000000', pairs(pbCircT, pbCircV), 5),
    thick('Circumferential resistance', 10, '#0000ff', pairs(pbCircResT, pbCircResV), 6),
    thick('Axial resistance', 10, '#ff0000', pairs(pbAxialResT, pbAxialResV), 7),
  ];

  const boldSerif = (s: number) => `bold ${s}px ${SERIF}`;
  const graphic = [
    txt('Axial stain', 1474, 115, boldSerif(64)),
    txt('Circumferential stain', 1365, 566, boldSerif(64)),
    txt('Axial strain', 1453, 1030, `57px ${SANS}`),
    txt('Circumferential resistance', 1531, 1531, boldSerif(64)),
    txt('Strain', 62, 288, boldSerif(66), Math.PI / 2),
    txt('Strain', 60, 750, boldSerif(66), Math.PI / 2),
    txt('Relative resistance', 72, 1222, `49px ${SANS}`, Math.PI / 2),
    txt('Relative resistance', 84, 1710, `49px ${SANS}`, Math.PI / 2),
    txt('Fatigue time/s', 1467, 2031, boldSerif(84)),
    txt('(a)', 1354, 2148, `72px ${SERIF}`),
    txt('Strain', 228, 2995, boldSerif(84), Math.PI / 2),
    txt('Relative resistance', 2521, 2992, boldSerif(84), Math.PI / 2),
    txt('Pressure fatigue time/s', 1363, 3797, boldSerif(84)),
    txt('(b)', 1359, 3940, `72px ${SERIF}`),
  ];

  return {
    animation: false,
    backgroundColor: '#ffffff',
    grid: grids,
    xAxis,
    yAxis,
    series,
    graphic,
    legend: [
      legendItem('Axial strain', 494, 2301),
      legendItem('Circumferential strain', 494, 2421),
      legendItem('Circumferential resistance', 1371, 2293),
      legendItem('Axial resistance', 1371, 2415),
    ],
  };
}

export default function App() {
  const ref = useRef<HTMLDivElement>(null);
  useEffect(() => {
    const el = ref.current;
    if (!el) return;
    const chart = echarts.init(el, null, { renderer: 'svg', width: 2722, height: 4001 });
    chart.setOption(buildOption() as any);
    return () => chart.dispose();
  }, []);
  return (
    <div
      ref={ref}
      style={{ position: 'absolute', left: 0, top: 0, width: 2722, height: 4001, background: '#fff' }}
    />
  );
}
